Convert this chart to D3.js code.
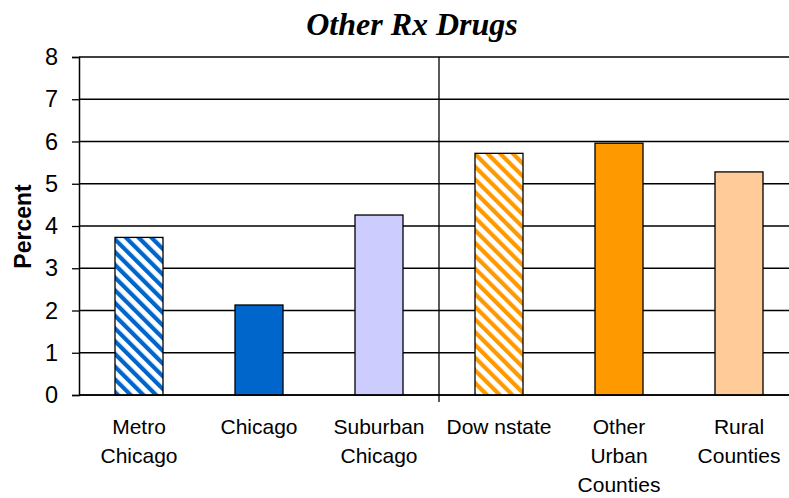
<!DOCTYPE html>
<html lang="en">
<head>
    <meta charset="utf-8">
    <title>Other Rx Drugs</title>
    <script src="https://cdn.jsdelivr.net/npm/d3@7"></script>
    <style>
        body { margin: 0; background: #fff; }
        svg { display: block; }
        .tick text { font-family: "Liberation Sans", Arial, sans-serif; }
    </style>
</head>
<body>
    <script>
        // data
        var categories = [
            ["Metro", "Chicago"],
            ["Chicago"],
            ["Suburban", "Chicago"],
            ["Dow nstate"],
            ["Other", "Urban", "Counties"],
            ["Rural", "Counties"]
        ];
        var values = [3.73, 2.13, 4.26, 5.72, 5.96, 5.28];
        var yTicks = [0, 1, 2, 3, 4, 5, 6, 7, 8];
        var fills = ["url(#hatchBlue)", "#0066cc", "#ccccff", "url(#hatchOrange)", "#ff9900", "#ffcc99"];

        var w = 789, h = 498;
        var padLeft = 79, padTop = 57, plotW = 720, plotH = 338;

        var svg = d3.select("body").append("svg")
            .attr("width", w)
            .attr("height", h);

        // hatch patterns
        var defs = svg.append("defs");
        function hatch(id, color) {
            var p = defs.append("pattern")
                .attr("id", id)
                .attr("patternUnits", "userSpaceOnUse")
                .attr("width", 9)
                .attr("height", 9)
                .attr("patternTransform", "rotate(-45)");
            p.append("rect").attr("width", 9).attr("height", 9).attr("fill", "#fff");
            p.append("rect").attr("width", 4.2).attr("height", 9).attr("fill", color);
        }
        hatch("hatchBlue", "#0066cc");
        hatch("hatchOrange", "#ff9900");

        var x = d3.scaleBand()
            .domain(d3.range(categories.length))
            .range([padLeft, padLeft + plotW])
            .paddingInner(0.6)
            .paddingOuter(0.3);

        var y = d3.scaleLinear()
            .domain([0, 8])
            .range([padTop + plotH, padTop]);

        // gridlines
        svg.append("g")
            .selectAll("line")
            .data(yTicks)
            .enter().append("line")
            .attr("x1", padLeft)
            .attr("x2", w)
            .attr("y1", d => y(d))
            .attr("y2", d => y(d))
            .attr("stroke", "#000")
            .attr("stroke-width", 1.3);

        // divider between the two groups
        var mid = (x(2) + x.bandwidth() + x(3)) / 2;
        svg.append("line")
            .attr("x1", mid).attr("x2", mid)
            .attr("y1", padTop).attr("y2", padTop + plotH + 7)
            .attr("stroke", "#000")
            .attr("stroke-width", 1.3);

        // bars
        svg.append("g")
            .selectAll("rect")
            .data(values)
            .enter().append("rect")
            .attr("x", (d, i) => x(i))
            .attr("y", d => y(d))
            .attr("width", x.bandwidth())
            .attr("height", d => y(0) - y(d))
            .attr("fill", (d, i) => fills[i])
            .attr("stroke", "#000")
            .attr("stroke-width", 1.3);

        // y axis
        var yAxis = d3.axisLeft(y)
            .tickValues(yTicks)
            .tickSize(7)
            .tickPadding(14);
        var gy = svg.append("g")
            .attr("transform", "translate(" + padLeft + ",0)")
            .call(yAxis);
        gy.select(".domain").attr("stroke-width", 1.5);
        gy.selectAll(".tick line").attr("stroke-width", 1.3);
        gy.selectAll(".tick text")
            .style("font-size", "23.5px")
            .attr("fill", "#000");

        // x axis baseline
        svg.append("line")
            .attr("x1", padLeft).attr("x2", w)
            .attr("y1", y(0)).attr("y2", y(0))
            .attr("stroke", "#000")
            .attr("stroke-width", 1.5);

        // category labels
        var labels = svg.append("g")
            .selectAll("text")
            .data(categories)
            .enter().append("text")
            .attr("x", (d, i) => x(i) + x.bandwidth() / 2)
            .attr("y", 434)
            .attr("text-anchor", "middle")
            .style("font-family", "'Liberation Sans', Arial, sans-serif")
            .style("font-size", "21px")
            .attr("fill", "#000");
        labels.selectAll("tspan")
            .data(d => d)
            .enter().append("tspan")
            .attr("x", function () { return d3.select(this.parentNode).attr("x"); })
            .attr("dy", (d, i) => i === 0 ? 0 : 29)
            .text(d => d);

        // title
        svg.append("text")
            .attr("x", 412)
            .attr("y", 35)
            .attr("text-anchor", "middle")
            .style("font-family", "'Liberation Serif', 'Times New Roman', serif")
            .style("font-weight", "bold")
            .style("font-style", "italic")
            .style("font-size", "32px")
            .text("Other Rx Drugs");

        // y label
        svg.append("text")
            .attr("transform", "translate(31," + 226.5 + ") rotate(-90)")
            .attr("text-anchor", "middle")
            .style("font-family", "'Liberation Sans', Arial, sans-serif")
            .style("font-weight", "bold")
            .style("font-size", "23px")
            .text("Percent");
    </script>
</body>
</html>
